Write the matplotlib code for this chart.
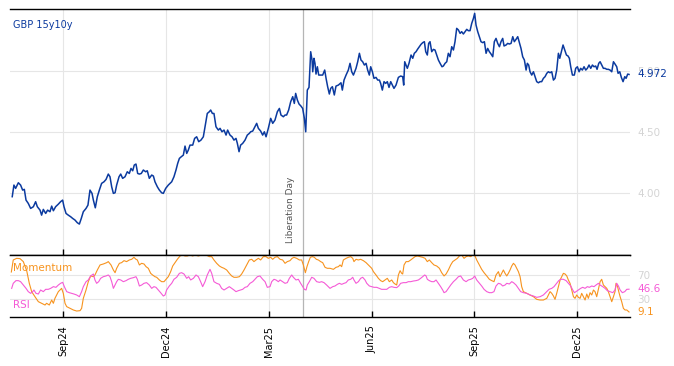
import matplotlib.pyplot as plt
import matplotlib.dates as mdates
import matplotlib.transforms as mtransforms
import pandas as pd

# days counted from the series start date
start = pd.Timestamp("2024-07-17")
x_end_days = 548.7

gbp_15y10y = [
    (2, 3.972), (3.5, 4.067), (5, 4.040), (7.4, 4.086), (9.4, 4.067), (11.2, 4.026), (12.7, 4.032),
    (14.2, 3.944), (16.2, 3.917), (18.3, 3.876), (20.7, 3.890), (22.7, 3.931), (24.2, 3.890),
    (26.6, 3.862), (28, 3.821), (29.5, 3.868), (31.6, 3.835), (33.3, 3.862), (35.4, 3.849),
    (36.9, 3.895), (38.4, 3.857), (40.4, 3.890), (42.8, 3.911), (44.8, 3.931), (46.6, 3.944),
    (47.8, 3.890), (49.6, 3.835), (51.6, 3.821), (53.7, 3.808), (55.5, 3.794), (57.5, 3.781),
    (59.6, 3.759), (61.4, 3.748), (63.1, 3.794), (64.9, 3.849), (67.3, 3.876), (69, 3.903),
    (70.8, 4.026), (72.6, 3.999), (73.8, 3.944), (75.5, 3.881), (77.3, 3.972), (79.1, 4.026),
    (81.1, 4.081), (83.2, 4.094), (85, 4.113), (87, 4.157), (88.5, 4.135), (90, 4.053),
    (91.5, 3.999), (93, 4.004), (94.4, 4.067), (96.5, 4.135), (98, 4.157), (99.7, 4.122),
    (101.8, 4.135), (103.8, 4.176), (105.6, 4.162), (107.1, 4.203), (108.6, 4.184), (110, 4.231),
    (111.5, 4.239), (113, 4.162), (114.5, 4.157), (116.2, 4.162), (118, 4.190), (120.1, 4.176),
    (121.5, 4.184), (123.3, 4.122), (125.4, 4.149), (126.9, 4.141), (128.3, 4.094), (130.4, 4.053),
    (132.2, 4.026), (134.2, 4.004), (135.7, 3.999), (137.8, 4.040), (140.1, 4.067), (143.1, 4.094),
    (145.1, 4.135), (146.9, 4.190), (148.4, 4.244), (149.9, 4.285), (151.6, 4.299), (153.4, 4.312),
    (154.9, 4.386), (156.4, 4.326), (157.8, 4.353), (159.3, 4.394), (161.7, 4.394), (163.4, 4.449),
    (165.2, 4.462), (167, 4.422), (169, 4.435), (171.1, 4.462), (172.6, 4.544), (174.6, 4.653),
    (176.4, 4.667), (177.6, 4.681), (179.1, 4.653), (180.5, 4.653), (182.3, 4.544), (184.4, 4.517),
    (185.9, 4.531), (187.6, 4.503), (189.4, 4.517), (191.2, 4.476), (192.6, 4.517), (194.7, 4.476),
    (196.5, 4.462), (198.2, 4.435), (200, 4.449), (201.2, 4.408), (202.7, 4.340), (204.1, 4.394),
    (205.9, 4.408), (208, 4.435), (210, 4.476), (211.8, 4.490), (213, 4.503), (214.8, 4.509),
    (216.8, 4.544), (218.3, 4.572), (219.8, 4.531), (221.8, 4.509), (223.6, 4.476), (225.1, 4.503),
    (226.6, 4.462), (228.6, 4.531), (230.7, 4.613), (232.5, 4.572), (234.5, 4.599), (236.6, 4.667),
    (238.4, 4.694), (239.8, 4.640), (241.9, 4.626), (243.4, 4.640), (244.8, 4.640), (246.6, 4.681),
    (248.4, 4.749), (250.2, 4.790), (251.6, 4.735), (252.8, 4.817), (254.3, 4.763), (255.8, 4.730),
    (257.5, 4.713), (259, 4.694), (260.5, 4.613), (261.7, 4.503), (263.1, 4.844), (264.6, 4.866),
    (266.1, 5.158), (267.3, 5.090), (267.9, 4.994), (269, 5.104), (269.9, 5.063), (270.8, 4.975),
    (272, 5.035), (273.2, 4.967), (275, 4.967), (276.7, 4.967), (278.5, 5.008), (279.7, 4.940),
    (281.1, 4.872), (282.6, 4.812), (283.8, 4.858), (285.3, 4.872), (287, 4.804), (288.5, 4.877),
    (290.6, 4.885), (292.9, 4.904), (294.1, 4.844), (295.6, 4.926), (297.4, 4.967), (299.4, 5.008),
    (300.9, 5.063), (302.4, 4.994), (303.9, 4.967), (306.2, 5.022), (307.7, 5.076), (309.2, 5.145),
    (310.6, 5.090), (312.1, 5.076), (313.6, 5.049), (315.1, 5.063), (316.5, 5.008), (318, 4.967),
    (319.2, 5.035), (320.7, 4.994), (322.1, 4.940), (323.9, 4.948), (325.4, 4.926), (326.9, 4.926),
    (328, 4.899), (329.5, 4.844), (331, 4.913), (332.5, 4.899), (333.9, 4.913), (335.4, 4.866),
    (336.9, 4.913), (338.4, 4.885), (339.8, 4.858), (341.6, 4.885), (343.7, 4.948), (345.7, 4.959),
    (347.5, 4.954), (348.4, 4.885), (349.3, 5.076), (350.5, 5.049), (351.6, 5.022), (353.1, 5.063),
    (354.9, 5.131), (356.4, 5.104), (357.8, 5.145), (359.3, 5.158), (360.8, 5.180), (362.3, 5.199),
    (363.7, 5.218), (365.2, 5.232), (366.7, 5.240), (367.9, 5.158), (369.3, 5.131), (370.5, 5.226),
    (371.7, 5.240), (373.2, 5.158), (374.7, 5.177), (376.1, 5.172), (377.6, 5.131), (379.1, 5.090),
    (380.6, 5.063), (382.3, 5.035), (383.5, 5.041), (385, 5.063), (386.5, 5.076), (387.9, 5.145),
    (389.4, 5.117), (390.9, 5.199), (392.4, 5.172), (393.8, 5.240), (395.3, 5.349), (396.8, 5.336),
    (398.3, 5.308), (399.7, 5.322), (401.2, 5.303), (402.7, 5.322), (404.2, 5.341), (405.6, 5.330),
    (407.1, 5.330), (408.6, 5.390), (410.1, 5.431), (411.2, 5.472), (412.4, 5.376), (413.9, 5.322),
    (415.4, 5.281), (416.8, 5.240), (418.3, 5.232), (419.8, 5.240), (421.3, 5.145), (422.7, 5.185),
    (424.2, 5.158), (425.7, 5.139), (427.2, 5.117), (428.6, 5.240), (430.1, 5.267), (431.6, 5.226),
    (433.1, 5.199), (434.5, 5.240), (436, 5.267), (437.2, 5.205), (439, 5.213), (440.4, 5.226),
    (441.9, 5.221), (443.4, 5.226), (444.9, 5.281), (446.3, 5.240), (447.8, 5.259), (449.3, 5.281),
    (450.5, 5.240), (452.2, 5.185), (453.7, 5.117), (455.2, 5.090), (456.7, 5.008), (457.8, 5.063),
    (459, 5.049), (460.2, 4.994), (461.7, 4.967), (463.2, 4.994), (464.6, 4.954), (466.1, 4.913),
    (467.6, 4.904), (469.1, 4.913), (470.5, 4.913), (472, 4.940), (473.5, 4.954), (475, 4.981),
    (476.4, 4.994), (477.9, 4.986), (479.4, 4.994), (480.9, 4.926), (482.3, 4.940), (483.8, 5.008),
    (485.3, 5.145), (486.5, 5.104), (487.9, 5.158), (489.4, 5.213), (490.9, 5.172), (492.4, 5.131),
    (493.8, 5.123), (495, 5.104), (496.2, 5.035), (497.7, 4.967), (499.4, 4.967), (500.6, 5.022),
    (502.1, 5.035), (503.6, 4.994), (505, 5.022), (506.5, 5.008), (508, 5.035), (509.5, 5.008),
    (510.9, 5.022), (512.4, 5.049), (513.9, 5.022), (515.4, 5.049), (516.8, 5.035), (518.3, 5.041),
    (519.5, 5.014), (521, 5.063), (522.2, 5.076), (523.6, 5.049), (525.1, 5.022), (526.6, 5.022),
    (528.1, 5.014), (529.5, 5.014), (531, 5.008), (532.5, 4.994), (534, 5.076), (535.4, 5.057),
    (536.9, 5.035), (538.1, 4.981), (539.6, 4.994), (541, 4.948), (542.5, 4.913), (544, 4.954),
    (545.2, 4.940), (546.6, 4.975), (547.8, 4.972),
]

momentum = [
    (1.2, 74.9), (2.9, 94.7), (5.9, 97.4), (8.9, 96.9), (11.8, 92.0), (14.8, 77.1), (17.1, 56.3),
    (19.2, 42.6), (22.1, 34.3), (25.1, 26.1), (28, 23.4), (31, 20.6), (32.4, 23.4), (34.8, 20.6),
    (36.9, 28.8), (38.4, 23.4), (39.8, 31.6), (42.8, 42.6), (45.7, 48.0), (47.2, 39.8), (48.7, 23.4),
    (50.2, 17.9), (53.1, 15.1), (56.1, 12.4), (59, 10.7), (62, 11.3), (63.4, 15.1), (64.9, 31.6),
    (67.3, 45.3), (69.3, 59.0), (71.4, 68.4), (73.8, 67.2), (75.2, 70.0), (77.3, 78.2), (79.7, 86.5),
    (82.6, 88.1), (85.6, 90.3), (87, 92.0), (89.4, 86.5), (91.5, 78.2), (93, 73.8), (94.4, 81.0),
    (96.8, 89.2), (98.8, 90.3), (100.9, 93.6), (103.2, 92.0), (105.6, 94.7), (107.7, 95.8),
    (109.7, 99.1), (111.5, 95.8), (112.7, 94.7), (114.5, 86.5), (116.5, 89.2), (118.6, 88.1),
    (120.4, 83.7), (122.4, 81.0), (124.5, 72.7), (126.2, 70.0), (128.3, 67.2), (129.8, 66.2),
    (132.2, 61.8), (134.2, 59.0), (136.3, 59.0), (138.1, 62.9), (140.1, 67.2), (142.2, 75.5),
    (144, 84.8), (146, 90.3), (148.1, 95.8), (150.5, 101.3), (152.8, 102.9), (154.9, 101.3),
    (156.9, 101.3), (159.3, 102.9), (161.7, 101.3), (163.7, 102.9), (166.7, 101.3), (169.6, 102.9),
    (173.5, 102.9), (176.4, 100.2), (178.5, 100.2), (180.5, 94.7), (182.9, 89.2), (185.3, 84.8),
    (187.3, 82.6), (189.4, 81.0), (191.8, 78.2), (194.1, 72.7), (196.2, 68.4), (198.2, 66.2),
    (200.6, 66.2), (203, 67.2), (205, 71.6), (207.1, 78.2), (209.5, 86.5), (211.8, 94.7),
    (213.9, 95.8), (215.9, 92.0), (217.7, 94.7), (219.8, 97.4), (221.8, 94.7), (224.2, 100.2),
    (226.6, 100.2), (228.6, 97.4), (230.7, 99.1), (232.5, 95.8), (234.5, 99.1), (236.6, 100.2),
    (239, 95.8), (241.3, 94.7), (243.4, 89.2), (245.4, 92.0), (247.8, 93.6), (249.6, 97.4),
    (251.3, 99.1), (253.7, 97.4), (256.1, 94.7), (258.1, 94.7), (259.6, 86.5), (261.4, 73.8),
    (262.8, 83.7), (264.3, 92.0), (265.8, 99.1), (267.6, 100.2), (269.3, 99.1), (271.1, 95.8),
    (272.9, 94.7), (274.9, 92.0), (276.7, 90.3), (278.8, 82.6), (280.8, 81.0), (283.2, 81.0),
    (286.2, 79.3), (288.5, 82.6), (290.6, 83.7), (292.1, 86.5), (293.5, 83.7), (295, 94.7),
    (297.4, 97.4), (299.4, 99.1), (301.5, 100.2), (303.3, 97.4), (304.4, 92.0), (306.2, 95.8),
    (308.3, 94.7), (310.3, 95.8), (312.7, 93.6), (315.1, 90.3), (317.1, 86.5), (318.6, 83.7),
    (320.1, 81.0), (321.6, 75.5), (323.9, 70.0), (326, 64.5), (328, 60.7), (329.8, 59.0),
    (331.9, 61.8), (333.9, 64.5), (335.7, 59.0), (337.8, 61.8), (339.3, 57.4), (340.7, 55.2),
    (342.2, 53.5), (343.7, 70.0), (345.2, 77.1), (346.6, 72.7), (347.5, 71.6), (348.7, 86.5),
    (350.5, 92.0), (352.5, 92.0), (354.6, 94.7), (356.4, 97.4), (358.4, 100.2), (360.5, 101.3),
    (362.9, 100.2), (365.2, 99.1), (367.3, 97.4), (369.3, 92.0), (371.1, 94.7), (373.2, 90.3),
    (375.2, 86.5), (377.6, 84.8), (380, 81.0), (382, 73.8), (384.1, 68.4), (385.9, 71.6),
    (387.9, 78.2), (390, 86.5), (391.8, 92.0), (393.8, 94.7), (395.9, 97.4), (397.7, 101.3),
    (399.7, 102.9), (401.8, 97.4), (403.6, 100.2), (405.6, 101.3), (407.7, 100.2), (409.5, 102.9),
    (411.5, 101.3), (413, 94.7), (415.4, 86.5), (417.4, 79.3), (419.5, 73.8), (421.9, 68.4),
    (424.2, 62.9), (426.3, 60.7), (428.3, 59.0), (430.1, 70.0), (432.2, 75.5), (433.6, 67.2),
    (435.1, 72.7), (436.6, 78.2), (438.1, 72.7), (439.6, 68.4), (441, 72.7), (442.5, 78.2),
    (444, 84.8), (445.5, 89.2), (446.9, 86.5), (448.4, 81.0), (449.9, 75.5), (451.4, 67.2),
    (452.8, 50.8), (454.3, 42.6), (457.3, 39.8), (460.2, 37.1), (463.2, 34.3), (466.1, 29.9),
    (469.1, 28.8), (472, 28.8), (475, 31.6), (476.4, 37.1), (477.9, 42.6), (479.4, 39.8),
    (480.9, 35.4), (482.3, 29.9), (483.8, 39.8), (485.3, 50.8), (486.8, 61.8), (488.2, 67.2),
    (489.7, 72.7), (491.2, 71.6), (492.7, 68.4), (494.1, 61.8), (495.6, 56.3), (497.1, 45.3),
    (498.6, 34.3), (500, 31.6), (501.5, 37.1), (503, 33.2), (504.5, 31.6), (505.9, 39.8),
    (507.4, 34.3), (508.9, 28.8), (510.4, 38.7), (511.8, 31.6), (513.3, 40.9), (514.8, 37.1),
    (516.3, 45.3), (517.7, 42.6), (519.2, 34.3), (520.7, 46.4), (522.2, 59.0), (523.6, 62.9),
    (525.1, 53.5), (526.6, 50.8), (528.1, 48.0), (529.5, 42.6), (531, 34.3), (532.5, 26.1),
    (534, 34.3), (535.4, 42.6), (536.3, 56.3), (537.5, 51.9), (538.7, 42.6), (539.9, 34.3),
    (541.3, 26.1), (542.8, 15.1), (544.3, 12.4), (545.8, 12.4), (547.8, 9.1),
]

rsi = [
    (1.5, 48.0), (2.9, 56.3), (5.3, 60.7), (7.4, 60.7), (9.4, 59.0), (11.8, 53.5), (14.2, 48.0),
    (16.2, 42.6), (18.3, 39.8), (20.1, 42.6), (21.2, 45.3), (23, 39.8), (25.1, 38.7), (27.1, 45.3),
    (29.5, 42.6), (31.6, 46.4), (33.9, 46.4), (36, 48.0), (38.4, 50.8), (40.7, 49.7), (42.8, 53.5),
    (44.8, 56.3), (46.6, 57.9), (48.1, 50.8), (50.2, 42.6), (52.5, 40.9), (54.6, 39.8), (56.6, 38.7),
    (59, 37.1), (61.4, 34.3), (63.4, 42.6), (64.9, 50.8), (67.3, 59.0), (69.3, 61.8), (71.4, 68.4),
    (73.8, 71.6), (75.2, 61.8), (76.7, 56.3), (78.5, 59.0), (80.2, 64.5), (82.6, 67.2), (85, 68.4),
    (87, 70.0), (88.5, 67.2), (90, 59.0), (91.5, 48.0), (93, 53.5), (94.4, 59.0), (95.9, 62.9),
    (98, 61.8), (100.3, 59.0), (102.7, 60.7), (104.7, 62.9), (106.8, 64.5), (109.2, 65.6),
    (111.5, 67.2), (112.7, 62.9), (114.5, 51.9), (116.5, 53.5), (118.6, 56.3), (120.9, 57.4),
    (123.3, 53.5), (125.4, 48.0), (127.4, 50.8), (129.2, 49.7), (131.3, 45.3), (133.3, 40.9),
    (135.7, 35.4), (137.2, 37.1), (138.6, 45.3), (141, 51.9), (143.1, 56.3), (145.1, 62.9),
    (147.5, 66.2), (149.9, 72.7), (151.9, 73.8), (154, 71.6), (156.4, 64.5), (158.1, 67.2),
    (159.9, 61.8), (162.3, 64.5), (164.6, 70.0), (166.7, 67.2), (168.7, 59.0), (170.5, 50.8),
    (172.6, 59.0), (174.6, 70.0), (177, 79.3), (178.5, 72.7), (180.5, 59.0), (182.9, 56.3),
    (185.3, 54.6), (187.3, 48.0), (189.4, 45.3), (191.8, 48.0), (194.1, 50.8), (196.2, 48.0),
    (198.2, 45.3), (200, 42.6), (202.1, 44.2), (204.1, 45.3), (205.9, 46.4), (208, 49.7),
    (210, 50.8), (212.4, 56.3), (214.8, 59.0), (216.8, 62.9), (218.9, 67.2), (221.2, 68.4),
    (223.6, 62.9), (225.7, 59.0), (227.7, 49.7), (230.1, 50.8), (231.6, 59.0), (233.6, 62.9),
    (235.4, 61.8), (237.5, 59.0), (239, 61.8), (241.3, 59.0), (243.4, 56.3), (245.4, 57.4),
    (247.2, 64.5), (249.3, 70.0), (250.8, 66.2), (253.1, 61.8), (255.2, 62.9), (257.2, 56.3),
    (259, 50.8), (260.5, 46.4), (262, 45.3), (263.1, 53.5), (264.9, 59.0), (267, 66.2),
    (269, 64.5), (271.4, 59.0), (273.8, 57.9), (275.8, 59.0), (277.9, 57.4), (280.2, 53.5),
    (283.2, 48.0), (285.6, 50.8), (287.6, 51.9), (289.7, 54.6), (291.5, 56.3), (293.5, 54.6),
    (295.6, 56.3), (297.4, 57.4), (299.4, 61.8), (301.5, 62.9), (303.3, 66.2), (304.4, 61.8),
    (306.2, 56.3), (308.3, 59.0), (310.3, 64.5), (312.1, 66.2), (314.2, 61.8), (315.7, 56.3),
    (318, 51.9), (320.1, 50.8), (322.1, 49.7), (324.5, 49.7), (326.9, 48.0), (328.9, 46.4),
    (331, 46.4), (333.4, 46.4), (335.7, 49.7), (337.8, 50.8), (339.8, 49.7), (342.2, 49.2),
    (344, 51.9), (345.7, 56.3), (348.1, 57.4), (350.5, 57.4), (352.5, 59.0), (354.6, 59.0),
    (357, 60.1), (359.3, 60.7), (361.4, 61.8), (363.4, 64.5), (365.2, 67.2), (367, 70.0),
    (368.2, 68.4), (369.3, 62.9), (371.1, 60.7), (373.2, 59.0), (375.2, 59.0), (377, 61.8),
    (379.1, 56.3), (381.1, 50.8), (382.9, 45.3), (384.1, 40.9), (385.9, 42.6), (387.9, 48.0),
    (390, 53.5), (392.4, 59.0), (394.7, 62.9), (396.8, 67.2), (398.8, 68.4), (401.2, 61.8),
    (403.6, 59.0), (405.6, 61.8), (407.7, 62.9), (409.5, 64.5), (411.2, 68.4), (413, 61.8),
    (415.4, 56.3), (417.4, 51.9), (419.5, 46.4), (421.9, 42.6), (424.2, 40.9), (426.3, 40.9),
    (428.3, 42.6), (430.1, 51.9), (432.2, 56.3), (434.2, 55.2), (436, 51.9), (438.1, 53.5),
    (439.6, 56.3), (441.9, 55.2), (444, 59.0), (445.5, 57.4), (447.8, 53.5), (449.9, 48.0),
    (451.9, 42.6), (454.3, 40.9), (457.3, 39.8), (460.2, 37.1), (463.2, 35.4), (466.1, 33.2),
    (469.1, 34.3), (472, 37.1), (475, 42.6), (477, 46.4), (479.4, 48.0), (481.4, 50.8),
    (483.8, 56.3), (485.6, 60.7), (487.3, 62.9), (489.7, 62.9), (492.1, 60.7), (494.1, 56.3),
    (496.2, 51.9), (498, 45.3), (499.4, 40.9), (500.9, 42.6), (503, 45.3), (505, 48.0),
    (506.8, 49.7), (508.9, 48.0), (510.9, 50.8), (512.7, 49.7), (514.8, 51.9), (516.8, 50.8),
    (518.6, 53.5), (520.7, 56.3), (522.2, 53.5), (524.5, 50.8), (526.6, 48.0), (528.6, 44.2),
    (531, 42.6), (533.4, 40.9), (535.4, 45.3), (536.9, 56.3), (538.4, 51.9), (539.9, 45.3),
    (541.9, 40.9), (544, 42.6), (545.8, 46.4), (547.8, 46.6),
]

tick_dates = ["2024-09-02", "2024-12-02", "2025-03-03", "2025-06-02", "2025-09-01", "2025-12-01"]
tick_labels = ["Sep24", "Dec24", "Mar25", "Jun25", "Sep25", "Dec25"]
liberation_day = pd.Timestamp("2025-04-02")
price_ticks = [4.00, 4.50, 5.00]
rsi_ticks = [30, 70]
last_price = 4.972
last_rsi = 46.6
last_momentum = 9.1

BLUE = "#0b3a9f"
ORANGE = "#f7931e"
PINK = "#f55ad6"
GRID = "#e6e6e6"
LIGHT = "#d4d4d4"


def to_series(points):
    days, vals = zip(*points)
    return start + pd.to_timedelta(list(days), unit="D"), list(vals)


fig = plt.figure(figsize=(6.74, 3.66), dpi=100)
ax = fig.add_axes([0.0148, 0.3033, 0.92, 0.6713])
ax2 = fig.add_axes([0.0148, 0.1331, 0.92, 0.1702], sharex=ax)

x, y = to_series(gbp_15y10y)
ax.plot(x, y, color=BLUE, lw=1.1)

x, y = to_series(momentum)
ax2.plot(x, y, color=ORANGE, lw=0.8)
x, y = to_series(rsi)
ax2.plot(x, y, color=PINK, lw=0.8)

for a in (ax, ax2):
    a.spines["left"].set_visible(False)
    a.spines["right"].set_visible(False)
    a.spines["top"].set_linewidth(1.0)
    a.spines["bottom"].set_linewidth(1.0)
    a.grid(True, color=GRID, lw=0.8)
    a.set_axisbelow(True)
    a.yaxis.tick_right()
    a.tick_params(axis="y", length=0, pad=5, labelsize=7.5, labelcolor=LIGHT)
    a.tick_params(axis="x", direction="in", length=4, width=1)
    a.axvline(liberation_day, color="#b5b5b5", lw=0.9, zorder=1)

ax.set_xlim(start, start + pd.Timedelta(days=x_end_days))
ax.set_ylim(3.495, 5.505)
ax.set_yticks(price_ticks)
ax.set_yticklabels([f"{v:.2f}" for v in price_ticks])
ax.set_xticks(pd.to_datetime(tick_dates))
ax.tick_params(axis="x", labelbottom=False)

ax2.set_ylim(0.4, 102.9)
ax2.set_yticks(rsi_ticks)
ax2.set_yticklabels([str(v) for v in rsi_ticks])
ax2.set_xticklabels(tick_labels, rotation=90, fontsize=7)
ax2.tick_params(axis="x", pad=6)

ax.text(0.005, 0.936, "GBP 15y10y", transform=ax.transAxes, color=BLUE,
        fontsize=7, va="center", ha="left")
trans = mtransforms.blended_transform_factory(ax.transData, ax.transAxes)
ax.annotate("Liberation Day", xy=(mdates.date2num(liberation_day), 0.05), xycoords=trans,
            xytext=(-5.5, 0), textcoords="offset points", rotation=90,
            ha="right", va="bottom", fontsize=6.5, color="#555555")

ax2.text(0.005, 0.79, "Momentum", transform=ax2.transAxes, color=ORANGE,
         fontsize=7.5, va="center", ha="left")
ax2.text(0.005, 0.2, "RSI", transform=ax2.transAxes, color=PINK,
         fontsize=7.5, va="center", ha="left")

ax.annotate(f"{last_price:.3f}", xy=(1, last_price), xycoords=("axes fraction", "data"),
            xytext=(5, 0), textcoords="offset points", va="center",
            fontsize=7.5, color=BLUE)
ax2.annotate(f"{last_rsi:.1f}", xy=(1, last_rsi), xycoords=("axes fraction", "data"),
             xytext=(5, 0), textcoords="offset points", va="center",
             fontsize=7.5, color=PINK)
ax2.annotate(f"{last_momentum:.1f}", xy=(1, last_momentum), xycoords=("axes fraction", "data"),
             xytext=(5, 0), textcoords="offset points", va="center",
             fontsize=7.5, color=ORANGE)

fig.savefig("out.png", dpi=100)
